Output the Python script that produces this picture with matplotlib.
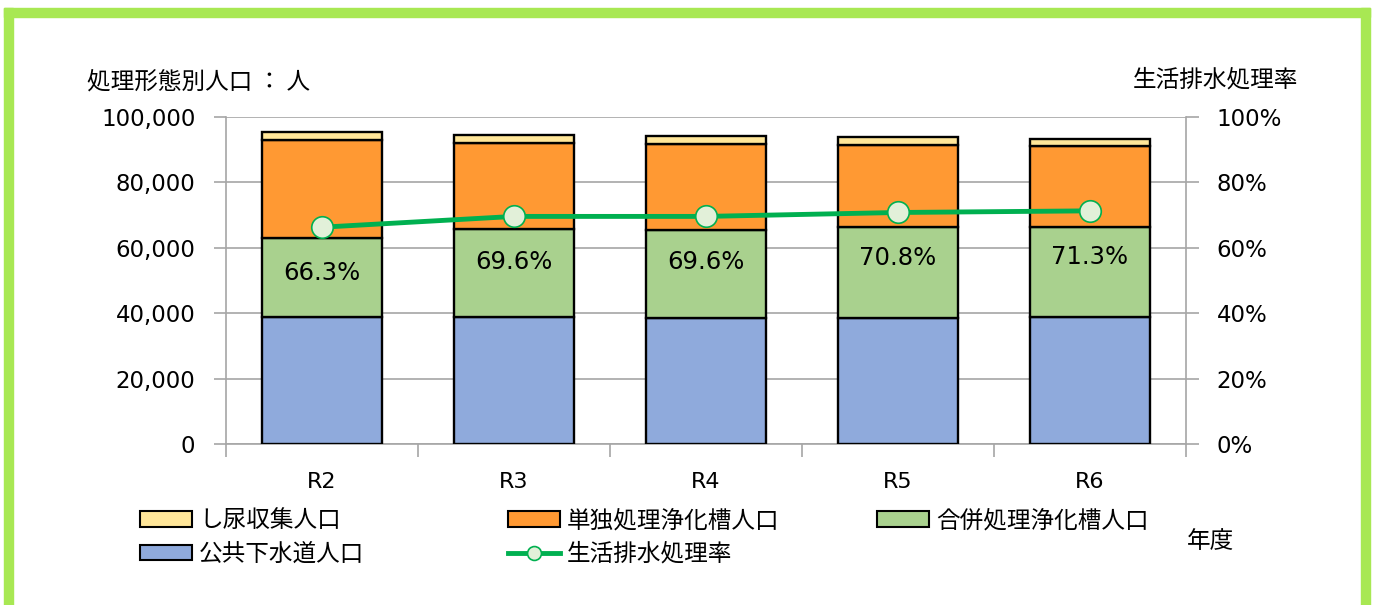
import matplotlib
matplotlib.use("Agg")
import matplotlib.pyplot as plt
from matplotlib.patches import Patch, Rectangle
from matplotlib.lines import Line2D
from matplotlib.ticker import FuncFormatter, FixedLocator

plt.rcParams['font.family'] = ['Noto Sans CJK JP', 'DejaVu Sans']

# ---- data ----
years = ["R2", "R3", "R4", "R5", "R6"]
sewer = [38800, 38900, 38600, 38600, 38900]        # 公共下水道人口
combined = [24300, 26800, 26900, 27700, 27600]     # 合併処理浄化槽人口
single = [29800, 26500, 26300, 25200, 24600]       # 単独処理浄化槽人口
night_soil = [2400, 2400, 2500, 2300, 2300]        # し尿収集人口
rate = [0.663, 0.696, 0.696, 0.708, 0.713]         # 生活排水処理率
rate_labels = ["66.3%", "69.6%", "69.6%", "70.8%", "71.3%"]
left_ticks = [0, 20000, 40000, 60000, 80000, 100000]
right_ticks = [0, 0.2, 0.4, 0.6, 0.8, 1.0]

c_sewer = "#8FAADC"
c_comb = "#A9D18E"
c_single = "#FF9933"
c_night = "#FFE699"
c_line = "#00B050"
c_marker = "#E2F0D9"
grid_c = "#A6A6A6"

W, H = 1375, 605
fig = plt.figure(figsize=(W / 100, H / 100), dpi=100)

# green frame
fig.patches.append(Rectangle((4 / W, 0), 9 / W, 1 - 8 / H, transform=fig.transFigure,
                             color="#A8E853", zorder=0))
fig.patches.append(Rectangle((4 / W, 1 - 17 / H), (1370 - 4) / W, 9 / H, transform=fig.transFigure,
                             color="#A8E853", zorder=0))
fig.patches.append(Rectangle((1361 / W, 0), 9 / W, 1 - 8 / H, transform=fig.transFigure,
                             color="#A8E853", zorder=0))

ax = fig.add_axes([226 / W, 1 - 444 / H, (1186 - 226) / W, (444 - 117) / H])
x = list(range(len(years)))
bw = 0.625
ekw = dict(edgecolor="black", linewidth=1.7, width=bw, zorder=3)
b1 = ax.bar(x, sewer, color=c_sewer, **ekw)
bot2 = sewer
b2 = ax.bar(x, combined, bottom=bot2, color=c_comb, **ekw)
bot3 = [a + b for a, b in zip(sewer, combined)]
b3 = ax.bar(x, single, bottom=bot3, color=c_single, **ekw)
bot4 = [a + b for a, b in zip(bot3, single)]
b4 = ax.bar(x, night_soil, bottom=bot4, color=c_night, **ekw)

ax.set_xlim(-0.5, len(years) - 0.5)
ax.set_ylim(0, 100000)
ax.set_yticks(left_ticks)
ax.yaxis.set_major_formatter(FuncFormatter(lambda v, p: f"{int(v):,}"))
ax.grid(axis="y", color=grid_c, linewidth=1.2, zorder=0)
ax.set_axisbelow(True)
for s in ["top", "right"]:
    ax.spines[s].set_visible(False)
for s in ["left", "bottom"]:
    ax.spines[s].set_color(grid_c)
    ax.spines[s].set_linewidth(1.2)
ax.tick_params(axis="y", length=9, color=grid_c, width=1.2, pad=13, labelsize=16.5)
# x ticks at boundaries, labels at centers
ax.xaxis.set_major_locator(FixedLocator([i - 0.5 for i in range(len(years) + 1)]))
ax.xaxis.set_major_formatter(FuncFormatter(lambda v, p: ""))
ax.xaxis.set_minor_locator(FixedLocator(x))
ax.set_xticklabels(years, minor=True)
ax.tick_params(axis="x", which="major", length=9, color=grid_c, width=1.2)
ax.tick_params(axis="x", which="minor", length=0, pad=20, labelsize=16)
for t in ax.get_yticklabels() + ax.get_xticklabels(minor=True):
    t.set_fontfamily("DejaVu Sans")

ax2 = ax.twinx()
ax2.set_ylim(0, 1)
ax2.set_yticks(right_ticks)
ax2.yaxis.set_major_formatter(FuncFormatter(lambda v, p: f"{v * 100:.0f}%"))
for s in ["top", "left", "bottom"]:
    ax2.spines[s].set_visible(False)
ax2.spines["right"].set_color(grid_c)
ax2.spines["right"].set_linewidth(1.2)
ax2.tick_params(axis="y", length=9, color=grid_c, width=1.2, pad=13, labelsize=16.5)
for t in ax2.get_yticklabels():
    t.set_fontfamily("DejaVu Sans")
ln, = ax2.plot(x, rate, color=c_line, linewidth=3.5, marker="o", markersize=15.5,
               markerfacecolor=c_marker, markeredgecolor=c_line, markeredgewidth=1.2, zorder=5)
for xi, r, lab in zip(x, rate, rate_labels):
    ax2.annotate(lab, (xi, r), xytext=(0, -33), textcoords="offset points",
                 ha="center", va="center", fontsize=17.5, fontfamily="DejaVu Sans")

# axis titles
fig.text(87 / W, 1 - 82 / H, "処理形態別人口 ： 人", ha="left", va="center", fontsize=17)
fig.text(1298 / W, 1 - 80 / H, "生活排水処理率", ha="right", va="center", fontsize=17)
fig.text(1234 / W, 1 - 542 / H, "年度", ha="right", va="center", fontsize=17)

# legend (three columns positioned like reference)
lkw = dict(frameon=False, fontsize=17, handlelength=2.2, handleheight=0.64,
           handletextpad=0.3, borderpad=0, borderaxespad=0, labelspacing=0.46,
           loc="upper left")
h_night = Patch(facecolor=c_night, edgecolor="black", linewidth=1.5)
h_sewer = Patch(facecolor=c_sewer, edgecolor="black", linewidth=1.5)
h_single = Patch(facecolor=c_single, edgecolor="black", linewidth=1.5)
h_comb = Patch(facecolor=c_comb, edgecolor="black", linewidth=1.5)
h_line = Line2D([], [], color=c_line, linewidth=3.5, marker="o", markersize=10,
                markerfacecolor=c_marker, markeredgecolor=c_line, markeredgewidth=1.2)
top_y = 1 - 509 / H
l1 = fig.legend([h_night, h_sewer], ["し尿収集人口", "公共下水道人口"],
                bbox_to_anchor=(140 / W, top_y), **lkw)
l2 = fig.legend([h_single, h_line], ["単独処理浄化槽人口", "生活排水処理率"],
                bbox_to_anchor=(508 / W, top_y), **lkw)
l3 = fig.legend([h_comb], ["合併処理浄化槽人口"],
                bbox_to_anchor=(877 / W, top_y), **lkw)

fig.savefig("out.png", dpi=100)
